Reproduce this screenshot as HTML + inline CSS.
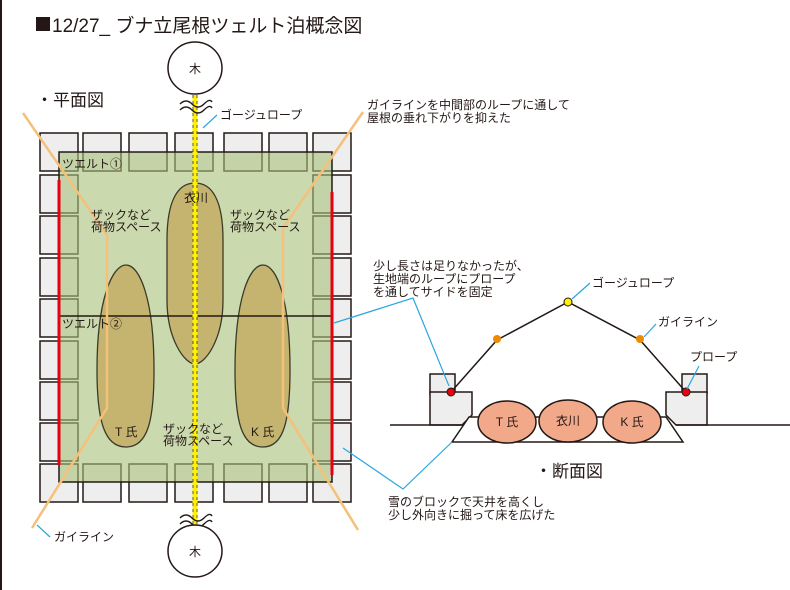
<!DOCTYPE html>
<html><head><meta charset="utf-8"><style>
body{margin:0;background:#fff}
svg{display:block}
text{font-family:"Liberation Sans","Noto Sans CJK JP",sans-serif;fill:#231815}
</style></head><body>
<svg width="790" height="590" viewBox="0 0 790 590" xmlns="http://www.w3.org/2000/svg">
<rect x="0" y="0" width="2" height="590" fill="#231815"/>
<rect x="36" y="17" width="14" height="14" fill="#231815"/>
<text x="52" y="32" font-size="19">12/27_ ブナ立尾根ツェルト泊概念図</text>
<text x="36" y="106" font-size="17">・平面図</text>
<text x="535" y="477" font-size="17">・断面図</text>

<!-- blocks -->
<g fill="#eeeeee" stroke="#231815" stroke-width="1.5">
<rect x="40" y="133" width="38" height="38"/><rect x="83" y="133" width="38" height="38"/><rect x="129" y="133" width="38" height="38"/><rect x="175" y="133" width="38" height="38"/><rect x="224" y="133" width="38" height="38"/><rect x="269" y="133" width="38" height="38"/><rect x="313" y="133" width="38" height="38"/>
<rect x="40" y="464" width="38" height="38"/><rect x="83" y="464" width="38" height="38"/><rect x="129" y="464" width="38" height="38"/><rect x="175" y="464" width="38" height="38"/><rect x="224" y="464" width="38" height="38"/><rect x="269" y="464" width="38" height="38"/><rect x="313" y="464" width="38" height="38"/>
<rect x="40" y="175" width="38" height="38"/><rect x="40" y="216" width="38" height="38"/><rect x="40" y="258" width="38" height="38"/><rect x="40" y="299" width="38" height="38"/><rect x="40" y="341" width="38" height="38"/><rect x="40" y="382" width="38" height="38"/><rect x="40" y="423" width="38" height="38"/>
<rect x="313" y="175" width="38" height="38"/><rect x="313" y="216" width="38" height="38"/><rect x="313" y="258" width="38" height="38"/><rect x="313" y="299" width="38" height="38"/><rect x="313" y="341" width="38" height="38"/><rect x="313" y="382" width="38" height="38"/><rect x="313" y="423" width="38" height="38"/>
</g>
<rect x="59" y="152" width="273" height="330" fill="#a9c07a" fill-opacity="0.6" stroke="#231815" stroke-width="1.5"/>
<!-- sleepers -->
<g fill="#c4b46f" stroke="#3a3a2a" stroke-width="1.3">
<path d="M195,183 C212,183 223,200 223,240 L223,300 C223,340 205,364 195,364 C185,364 167,340 167,300 L167,240 C167,200 178,183 195,183Z"/>
<path d="M126,265 C140,265 154,300 154,370 C154,420 148,447 126,447 C104,447 97,420 97,370 C97,300 112,265 126,265Z"/>
<path d="M263,265 C277,265 290,300 290,370 C290,420 284,447 263,447 C241,447 235,420 235,370 C235,300 249,265 263,265Z"/>
</g>
<line x1="59" y1="316" x2="332" y2="316" stroke="#231815" stroke-width="1.5"/>
<line x1="59" y1="180" x2="59" y2="465" stroke="#e60012" stroke-width="3"/>
<line x1="332" y1="192" x2="332" y2="475" stroke="#e60012" stroke-width="3"/>
<!-- guylines -->
<g fill="none" stroke="#f5c07a" stroke-width="2.5">
<polyline points="23,113 107,235 107,408 32,528"/>
<polyline points="363,112 283,228 283,408 358,530"/>
</g>
<!-- rope -->
<line x1="195" y1="95" x2="195" y2="527" stroke="#fff100" stroke-width="5"/>
<line x1="193" y1="95" x2="193" y2="527" stroke="#555" stroke-width="1" stroke-dasharray="3,3"/>
<line x1="197" y1="95" x2="197" y2="527" stroke="#555" stroke-width="1" stroke-dasharray="3,3"/>
<g fill="none" stroke="#231815" stroke-width="1.4">
<path d="M180,104 q6,-6 12,0 t12,0 t8,-2"/><path d="M180,110 q6,-6 12,0 t12,0 t8,-2"/>
<path d="M180,518 q6,-6 12,0 t12,0 t8,-2"/><path d="M180,524 q6,-6 12,0 t12,0 t8,-2"/>
</g>
<ellipse cx="195" cy="68" rx="27" ry="26" fill="#fff" stroke="#231815" stroke-width="1.5"/>
<ellipse cx="195" cy="551" rx="27" ry="26" fill="#fff" stroke="#231815" stroke-width="1.5"/>
<text x="195" y="73" font-size="12" text-anchor="middle">木</text>
<text x="195" y="556" font-size="12" text-anchor="middle">木</text>

<g font-size="12">
<text x="62" y="168">ツエルト①</text>
<text x="62" y="328">ツエルト②</text>
<text x="91" y="219">ザックなど</text><text x="91" y="231">荷物スペース</text>
<text x="230" y="219">ザックなど</text><text x="230" y="231">荷物スペース</text>
<text x="163" y="433">ザックなど</text><text x="163" y="445">荷物スペース</text>
<text x="184" y="202">衣川</text>
<text x="115" y="436">T 氏</text>
<text x="251" y="436">K 氏</text>
<text x="220" y="119">ゴージュロープ</text>
<text x="367" y="109">ガイラインを中間部のループに通して</text>
<text x="367" y="122">屋根の垂れ下がりを抑えた</text>
<text x="373" y="270">少し長さは足りなかったが、</text>
<text x="373" y="283">生地端のループにプロープ</text>
<text x="373" y="296">を通してサイドを固定</text>
<text x="592" y="287">ゴージュロープ</text>
<text x="658" y="326">ガイライン</text>
<text x="690" y="361">プロープ</text>
<text x="388" y="506">雪のブロックで天井を高くし</text>
<text x="388" y="519">少し外向きに掘って床を広げた</text>
<text x="54" y="541">ガイライン</text>
</g>

<!-- section -->
<g stroke="#231815" stroke-width="1.5" fill="#eeeeee">
<rect x="430" y="374" width="25" height="19"/>
<rect x="682" y="374" width="25" height="19"/>
<polygon points="430,392 472,392 472,415 462,425 430,425"/>
<polygon points="666,392 707,392 707,425 676,425 666,415"/>
</g>
<g stroke="#231815" stroke-width="1.5" fill="none">
<line x1="390" y1="425" x2="462" y2="425"/>
<line x1="676" y1="425" x2="790" y2="425"/>
<polygon points="469,417 452,442 683,442 666,417" fill="#fff"/>
<polyline points="451,392 497,340 568,302 640,340 686,392"/>
</g>
<g fill="#f2a98a" stroke="#231815" stroke-width="1.5">
<ellipse cx="507" cy="422" rx="29" ry="21"/>
<ellipse cx="568" cy="421" rx="29" ry="21"/>
<ellipse cx="632" cy="422" rx="29" ry="21"/>
</g>
<g font-size="12" text-anchor="middle">
<text x="507" y="426">T 氏</text><text x="568" y="425">衣川</text><text x="632" y="426">K 氏</text>
</g>
<g stroke="#231815" stroke-width="1">
<circle cx="497" cy="339" r="4" fill="#ee8a00" stroke="none"/>
<circle cx="640" cy="339" r="4" fill="#ee8a00" stroke="none"/>
<circle cx="568" cy="302" r="4" fill="#fff100"/>
<circle cx="451" cy="392" r="4" fill="#e60012"/>
<circle cx="686" cy="392" r="4" fill="#e60012"/>
</g>
<!-- callouts -->
<g stroke="#2aa6e0" stroke-width="1.2" fill="none">
<line x1="203" y1="128" x2="217" y2="115"/>
<polyline points="334,323 413,298 449,386"/>
<line x1="572" y1="299" x2="590" y2="283"/>
<line x1="644" y1="337" x2="656" y2="324"/>
<line x1="687" y1="389" x2="699" y2="366"/>
<polyline points="343,448 403,489 452,442"/>
<line x1="37" y1="525" x2="50" y2="537"/>
</g>
</svg>
</body></html>
